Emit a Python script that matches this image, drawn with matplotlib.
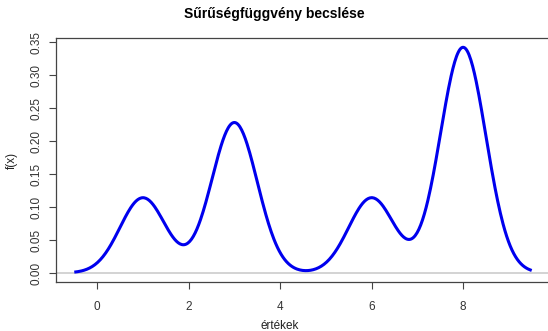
import numpy as np
import matplotlib
matplotlib.use("Agg")
import matplotlib.pyplot as plt

# megfigyelések és sávszélesség (Gauss-kernel)
observations = [1, 3, 3, 6, 8, 8, 8]
bandwidth = 0.5
x_ticks = [0, 2, 4, 6, 8]
y_ticks = [0.00, 0.05, 0.10, 0.15, 0.20, 0.25, 0.30, 0.35]

plt.rcParams["font.family"] = ["Liberation Sans", "DejaVu Sans"]

obs = np.array(observations, dtype=float)
grid = np.linspace(obs.min() - 3 * bandwidth, obs.max() + 3 * bandwidth, 512)
dens = np.exp(-0.5 * ((grid[:, None] - obs[None, :]) / bandwidth) ** 2).sum(axis=1)
dens /= len(obs) * bandwidth * np.sqrt(2 * np.pi)

W, H = 548, 331
fig = plt.figure(figsize=(W / 100, H / 100), dpi=100)
ax = fig.add_axes([56 / W, 1 - 282 / H, (550 - 56) / W, (282 - 38.3) / H])

ax.axhline(0, color="#cccccc", lw=1.2, zorder=1)
ax.plot(grid, dens, color="#0000ee", lw=2.2, zorder=2, solid_capstyle="butt")

span = grid.max() - grid.min()
ax.set_xlim(grid.min() - 0.04 * span, grid.max() + 0.04 * span)
ymax = dens.max()
ax.set_ylim(-0.04 * ymax, ymax * 1.04)

ax.set_xticks(x_ticks)
ax.set_yticks(y_ticks)
ax.set_xticklabels([str(t) for t in x_ticks])
ax.set_yticklabels([f"{t:.2f}" for t in y_ticks], rotation=90, va="center")
ax.tick_params(colors="#444444", labelcolor="#333333", labelsize=8.5, length=5, width=0.8)
ax.tick_params(axis="x", pad=9)
ax.tick_params(axis="y", pad=5)

for s in ax.spines.values():
    s.set_color("#444444")
    s.set_linewidth(0.9)

fig.text(280 / W, 1 - 326 / H, "értékek", ha="center", va="center",
         fontsize=8.5, color="#222222")
fig.text(12 / W, 1 - 160 / H, "f(x)", ha="center", va="center", rotation=90,
         fontsize=8.5, color="#222222")
fig.text(0.5, 1 - 14 / H, "Sűrűségfüggvény becslése", ha="center", va="center",
         fontsize=10, fontweight="bold")

fig.savefig("out.png", dpi=100)
